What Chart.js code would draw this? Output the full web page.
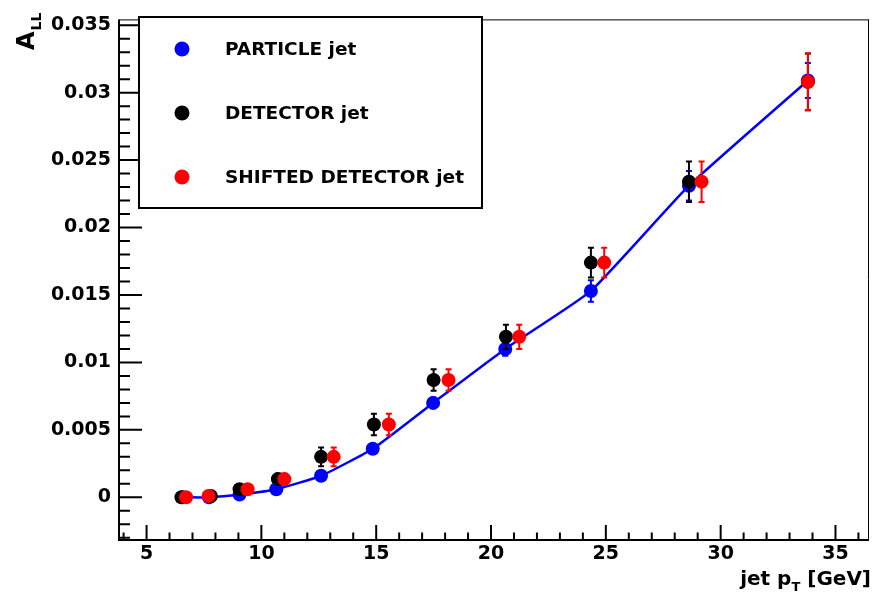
<!DOCTYPE html>
<html>
<head>
<meta charset="utf-8">
<title>A_LL vs jet pT</title>
<script src="https://cdn.jsdelivr.net/npm/chart.js@4/dist/chart.umd.min.js"></script>
<style>
    html, body { margin: 0; padding: 0; background: #fff; }
    canvas { display: block; }
</style>
</head>
<body>
<canvas id="allChart" width="876" height="599"></canvas>
<script>
// Data
const particleX   = [6.58, 7.72, 9.05, 10.65, 12.6, 14.85, 17.48, 20.62, 24.35, 28.62, 33.8];
const particleY   = [0.0000, 0.0000, 0.0002, 0.0006, 0.0016, 0.0036, 0.0070, 0.0110, 0.0153, 0.0231, 0.0309];
const particleErr = [0.0000, 0.0000, 0.0001, 0.0001, 0.0002, 0.0003, 0.0004, 0.0005, 0.0008, 0.0011, 0.0013];

const detectorX   = [6.52, 7.8, 9.05, 10.72, 12.6, 14.9, 17.5, 20.65, 24.35, 28.62, 33.8];
const detectorY   = [0.0000, 0.0001, 0.0006, 0.00135, 0.0030, 0.0054, 0.0087, 0.0119, 0.0174, 0.0234, 0.0308];
const detectorErr = [0.0002, 0.0002, 0.0003, 0.0004, 0.0007, 0.0008, 0.0008, 0.0009, 0.0011, 0.0015, 0.0021];

const shiftedX    = [6.72, 7.7, 9.4, 11.0, 13.15, 15.55, 18.15, 21.23, 24.93, 29.17, 33.8];
const shiftedY    = [0.0000, 0.0001, 0.0006, 0.00135, 0.0030, 0.0054, 0.0087, 0.0119, 0.0174, 0.0234, 0.0308];
const shiftedErr  = [0.0002, 0.0002, 0.0003, 0.0004, 0.0007, 0.0008, 0.0008, 0.0009, 0.0011, 0.0015, 0.0021];

const xTickValues = [5, 10, 15, 20, 25, 30, 35];
const yTickValues = [0, 0.005, 0.01, 0.015, 0.02, 0.025, 0.03, 0.035];
const yTickLabels = ['0', '0.005', '0.01', '0.015', '0.02', '0.025', '0.03', '0.035'];

const FONT = 'DejaVu Sans';

function toPoints(xs, ys) {
    return xs.map((x, i) => ({ x: x, y: ys[i] }));
}

// error bars + ROOT-like frame, inward ticks, legend and axis titles
const rootStyle = {
    id: 'rootStyle',

    beforeDatasetDraw(chart, args) {
        const ds = chart.data.datasets[args.index];
        if (!ds.errors) return;
        const { ctx, scales: { x, y } } = chart;
        ctx.save();
        ctx.strokeStyle = ds.pointBackgroundColor;
        ctx.lineWidth = 2;
        ds.data.forEach((p, i) => {
            const err = ds.errors[i];
            if (!err) return;
            const px = x.getPixelForValue(p.x);
            const top = y.getPixelForValue(p.y + err);
            const bottom = y.getPixelForValue(p.y - err);
            ctx.beginPath();
            ctx.moveTo(px, top);
            ctx.lineTo(px, bottom);
            ctx.moveTo(px - 3, top);
            ctx.lineTo(px + 3, top);
            ctx.moveTo(px - 3, bottom);
            ctx.lineTo(px + 3, bottom);
            ctx.stroke();
        });
        ctx.restore();
    },

    afterDraw(chart) {
        const { ctx, chartArea: area, scales: { x, y } } = chart;
        ctx.save();
        ctx.strokeStyle = '#000';

        // frame
        ctx.lineWidth = 1;
        ctx.beginPath();
        ctx.moveTo(area.left, area.top + 0.5);
        ctx.lineTo(area.right, area.top + 0.5);
        ctx.moveTo(area.right - 0.5, area.top);
        ctx.lineTo(area.right - 0.5, area.bottom);
        ctx.stroke();
        ctx.lineWidth = 2;
        ctx.beginPath();
        ctx.moveTo(area.left, area.top);
        ctx.lineTo(area.left, area.bottom);
        ctx.lineTo(area.right, area.bottom);
        ctx.stroke();

        // ticks pointing into the plot
        ctx.lineWidth = 2;
        ctx.beginPath();
        for (let v = Math.ceil(x.min); v <= x.max; v++) {
            const px = x.getPixelForValue(v);
            const len = xTickValues.includes(v) ? 15 : 7.5;
            ctx.moveTo(px, area.bottom);
            ctx.lineTo(px, area.bottom - len);
        }
        for (let k = Math.ceil(y.min * 1000); k <= y.max * 1000; k++) {
            const py = y.getPixelForValue(k / 1000);
            const len = k % 5 === 0 ? 23 : 11;
            ctx.moveTo(area.left, py);
            ctx.lineTo(area.left + len, py);
        }
        ctx.stroke();

        // legend
        const box = { left: 139, top: 17, right: 482, bottom: 208 };
        ctx.fillStyle = '#fff';
        ctx.fillRect(box.left, box.top, box.right - box.left, box.bottom - box.top);
        ctx.lineWidth = 2;
        ctx.strokeRect(box.left, box.top, box.right - box.left, box.bottom - box.top);
        const rows = [49, 113, 177];
        ctx.font = `bold 18.5px "${FONT}"`;
        ctx.textBaseline = 'middle';
        ctx.textAlign = 'left';
        chart.data.datasets.forEach((ds, i) => {
            ctx.fillStyle = ds.pointBackgroundColor;
            ctx.beginPath();
            ctx.arc(182, rows[i], 7.5, 0, Math.PI * 2);
            ctx.fill();
            ctx.fillStyle = '#000';
            ctx.fillText(ds.label, 225, rows[i] + 1);
        });

        // x title: jet p_T [GeV]
        ctx.textBaseline = 'alphabetic';
        ctx.fillStyle = '#000';
        const big = `bold 20px "${FONT}"`;
        const small = `bold 13px "${FONT}"`;
        ctx.font = big;
        const w1 = ctx.measureText('jet p').width;
        const w3 = ctx.measureText(' [GeV]').width;
        ctx.font = small;
        const w2 = ctx.measureText('T').width;
        let tx = 871 - (w1 + w2 + w3);
        ctx.font = big;
        ctx.fillText('jet p', tx, 585);
        ctx.font = small;
        ctx.fillText('T', tx + w1, 591);
        ctx.font = big;
        ctx.fillText(' [GeV]', tx + w1 + w2, 585);

        // y title: A_LL, rotated
        ctx.translate(34, 50);
        ctx.rotate(-Math.PI / 2);
        ctx.font = `bold 24px "${FONT}"`;
        ctx.fillText('A', 0, 0);
        const wa = ctx.measureText('A').width;
        ctx.font = `bold 14px "${FONT}"`;
        ctx.fillText('LL', wa + 1, 7);

        ctx.restore();
    }
};

function createChart() {
    const ctx = document.getElementById('allChart');

    new Chart(ctx, {
        type: 'scatter',
        data: {
            datasets: [
                {
                    label: 'PARTICLE jet',
                    data: toPoints(particleX, particleY),
                    errors: particleErr,
                    showLine: true,
                    borderColor: '#0000ff',
                    borderWidth: 2.5,
                    tension: 0.15,
                    pointRadius: 7,
                    pointBorderWidth: 0,
                    pointBackgroundColor: '#0000ff',
                    order: 3
                },
                {
                    label: 'DETECTOR jet',
                    data: toPoints(detectorX, detectorY),
                    errors: detectorErr,
                    pointRadius: 7,
                    pointBorderWidth: 0,
                    pointBackgroundColor: '#000000',
                    order: 2
                },
                {
                    label: 'SHIFTED DETECTOR jet',
                    data: toPoints(shiftedX, shiftedY),
                    errors: shiftedErr,
                    pointRadius: 7,
                    pointBorderWidth: 0,
                    pointBackgroundColor: '#ff0000',
                    order: 1
                }
            ]
        },
        options: {
            responsive: false,
            animation: false,
            layout: { padding: { top: 12, right: 4, left: 0, bottom: 0 } },
            plugins: {
                legend: { display: false },
                tooltip: { enabled: false }
            },
            scales: {
                x: {
                    type: 'linear',
                    min: 3.8,
                    max: 36.46,
                    grid: { display: false, drawTicks: false },
                    border: { display: false },
                    ticks: {
                        color: '#000',
                        font: { family: FONT, weight: 'bold', size: 19 },
                        padding: 3,
                        maxRotation: 0,
                        autoSkip: false
                    },
                    afterBuildTicks: (scale) => {
                        scale.ticks = xTickValues.map(v => ({ value: v }));
                    },
                    afterFit: (scale) => { scale.height = 59; }
                },
                y: {
                    type: 'linear',
                    min: -0.003165,
                    max: 0.03543,
                    grid: { display: false, drawTicks: false },
                    border: { display: false },
                    ticks: {
                        color: '#000',
                        font: { family: FONT, weight: 'bold', size: 19 },
                        padding: 8,
                        autoSkip: false,
                        callback: (value, index) => yTickLabels[index]
                    },
                    afterBuildTicks: (scale) => {
                        scale.ticks = yTickValues.map(v => ({ value: v }));
                    },
                    afterFit: (scale) => { scale.width = 119; }
                }
            }
        },
        plugins: [rootStyle]
    });
}

document.addEventListener('DOMContentLoaded', createChart);
</script>
</body>
</html>
